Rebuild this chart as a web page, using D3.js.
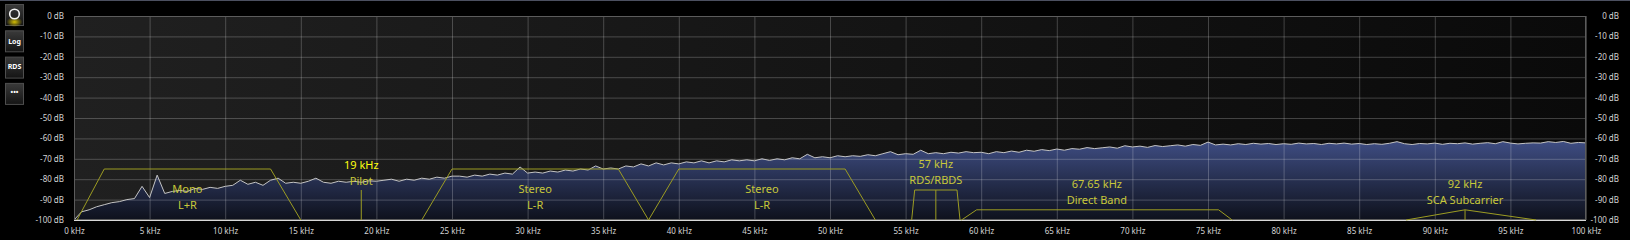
<!DOCTYPE html>
<html>
<head>
<meta charset="utf-8">
<script src="https://cdn.jsdelivr.net/npm/d3@7"></script>
<style>
    html, body { margin: 0; padding: 0; background: #000; }
    svg { display: block; }
    text { font-family: "Noto Sans", "Open Sans", sans-serif; }
</style>
</head>
<body>
<svg id="mpx-svg" width="1630" height="240"></svg>
<script>
/*
    mpx spectrum
*/

// Frequency ticks (kHz) and level ticks (dB)
const freqTicks = [0, 5, 10, 15, 20, 25, 30, 35, 40, 45, 50, 55, 60, 65, 70, 75, 80, 85, 90, 95, 100];
const levelTicks = [0, -10, -20, -30, -40, -50, -60, -70, -80, -90, -100];

// Spectrum, one value per 0.5 kHz bin
const binKHz = 0.5;
const spectrumDb = [
    -100, -96, -95, -93.5, -92.5, -91.5, -91, -90, -89.5, -83.5,
    -89, -78, -87, -86, -85.5, -86, -84.5, -85, -84, -84.5,
    -83.5, -83, -80.5, -82.5, -81.5, -83, -80.5, -79.5, -82, -81.5,
    -82, -81, -79.5, -81.5, -82, -81, -81.5, -81, -81.5, -80.8,
    -81, -80.5, -80, -81, -80, -80.5, -79.5, -80, -79, -79.5,
    -78.5, -78.5, -79, -78, -78.5, -77.5, -78, -77, -77.5, -74,
    -77, -76.5, -77, -76, -76.5, -75.5, -76, -75, -75.5, -73.5,
    -75, -74.5, -75, -73.5, -74, -72.5, -73.5, -72, -73, -72,
    -72.5, -71.5, -72, -71, -72, -71, -71.5, -70.5, -71, -70.5,
    -71, -70, -70.8, -70, -70.5, -69.5, -70, -67.8, -69.5, -69,
    -69.5, -68.5, -69, -68.5, -68.8, -68, -68.5, -67.5, -66.5, -68,
    -67.5, -67.8, -65.8, -67.5, -67, -67.5, -66.8, -67.2, -66.5, -67,
    -66.8, -67.5, -66.5, -67, -66.2, -66.8, -65.8, -66.3, -65.5, -66,
    -65.2, -65.8, -65, -65.3, -64.5, -65, -64.6, -64.2, -64.8, -63.6,
    -64.2, -63.8, -64.4, -63.5, -64, -63.6, -63.2, -63.8, -63, -63.4,
    -61.8, -63.2, -62.8, -63.2, -62.6, -63, -62.4, -62.8, -62.5, -63,
    -62.6, -62.9, -62.3, -62.7, -62.5, -63, -62.4, -62.7, -62.3, -62.8,
    -62.5, -63, -62.6, -62.9, -62.4, -61.6, -62.6, -63, -62.5, -62.7,
    -62.3, -62.9, -62.4, -62.6, -62.2, -62.8, -62.4, -62.1, -62.6, -61.6,
    -62.3, -62.7, -62.4, -62.2, -62.3, -61.6, -62, -61.5, -62.4, -62,
    -62.2
];

// Band masks as [kHz, dB] corner points
const monoMask = [[0.2, -100], [2, -75], [13, -75], [15, -100]];
const pilotMarker = [[19, -100], [19, -85.3]];
const stereoMaskLow = [[23, -100], [25, -75], [36, -75], [38, -100]];
const stereoMaskHigh = [[38, -100], [40, -75], [51, -75], [53, -100]];
const rdsMask = [[55.4, -100], [55.6, -85.3], [58.4, -85.3], [58.6, -100]];
const rdsMarker = [[57, -100], [57, -85.3]];
const directBandMask = [[58.7, -100], [59.7, -95], [75.7, -95], [76.6, -100]];
const scaMask = [[88.1, -100], [92, -95], [96.7, -100]];
const scaMarker = [[92, -100], [92, -95]];

// Band captions: centre frequency, level of the first line, lines
const bandCaptions = [
    { kHz: 7.5, dB: -85, lines: ["Mono", "L+R"] },
    { kHz: 19, dB: -73, lines: ["19 kHz", "Pilot"], bright: true },
    { kHz: 30.5, dB: -85, lines: ["Stereo", "L-R"] },
    { kHz: 45.5, dB: -85, lines: ["Stereo", "L-R"] },
    { kHz: 57, dB: -72.7, lines: ["57 kHz", "RDS/RBDS"] },
    { kHz: 67.65, dB: -82.5, lines: ["67.65 kHz", "Direct Band"] },
    { kHz: 92, dB: -82.5, lines: ["92 kHz", "SCA Subcarrier"] }
];

const sideButtons = ["ring", "Log", "RDS", "\u2022\u2022\u2022"];

class SpectrumChart {
    constructor() {
        this._left = 74;
        this._right = 1586;
        this._top = 16;
        this._bottom = 220;
        this._maskColour = "#9c9c22";
        this._captionColour = "#c8c83a";

        this.x = d3.scaleLinear().domain([0, 100]).range([this._left, this._right]);
        this.y = d3.scaleLinear().domain([-100, 0]).range([this._bottom, this._top]);

        this._setupSvg();
        this._setupGradients();
    }

    _setupSvg() {
        this._svg = d3.select("#mpx-svg");
        this._defs = this._svg.append("defs");
        this._svg
            .append("rect")
            .attr("width", 1630)
            .attr("height", 240)
            .attr("fill", "#000");
        this._svg
            .append("rect")
            .attr("width", 1630)
            .attr("height", 1)
            .attr("fill", "#4c5060");
    }

    _setupGradients() {
        const bg = this._defs
            .append("linearGradient")
            .attr("id", "plot-bg")
            .attr("x1", "0%")
            .attr("x2", "100%")
            .attr("y1", "0%")
            .attr("y2", "0%");
        bg.append("stop").attr("offset", "0%").attr("stop-color", "#202020");
        bg.append("stop").attr("offset", "100%").attr("stop-color", "#0a0a0a");

        const fill = this._defs
            .append("linearGradient")
            .attr("id", "spectrum-fill")
            .attr("gradientUnits", "userSpaceOnUse")
            .attr("x1", 0)
            .attr("x2", 0)
            .attr("y1", this.y(-60))
            .attr("y2", this.y(-100));
        fill.append("stop").attr("offset", "0%").attr("stop-color", "#404f86");
        fill.append("stop").attr("offset", "100%").attr("stop-color", "#0e111c");

        const glow = this._defs.append("radialGradient").attr("id", "ring-glow");
        glow.append("stop").attr("offset", "0%").attr("stop-color", "#e8d000").attr("stop-opacity", 0.9);
        glow.append("stop").attr("offset", "100%").attr("stop-color", "#e8d000").attr("stop-opacity", 0);

        const btn = this._defs
            .append("linearGradient")
            .attr("id", "btn-bg")
            .attr("x1", "0%")
            .attr("x2", "0%")
            .attr("y1", "0%")
            .attr("y2", "100%");
        btn.append("stop").attr("offset", "0%").attr("stop-color", "#3a3a3a");
        btn.append("stop").attr("offset", "100%").attr("stop-color", "#141414");
    }

    _drawPlotArea() {
        this._svg
            .append("rect")
            .attr("x", this._left)
            .attr("y", this._top)
            .attr("width", this._right - this._left)
            .attr("height", this._bottom - this._top)
            .attr("fill", "url(#plot-bg)");
    }

    _drawSpectrum() {
        const area = d3
            .area()
            .x((d, i) => this.x(i * binKHz))
            .y0(this.y(-100))
            .y1(d => this.y(d));
        const line = d3
            .line()
            .x((d, i) => this.x(i * binKHz))
            .y(d => this.y(d));

        this._svg
            .append("path")
            .datum(spectrumDb)
            .attr("d", area)
            .attr("fill", "url(#spectrum-fill)");
        this._gridG = this._svg.append("g");
        this._svg
            .append("path")
            .datum(spectrumDb)
            .attr("d", line)
            .attr("fill", "none")
            .attr("stroke", "#c4c4c4")
            .attr("stroke-width", 1);
    }

    _drawGridAndAxes() {
        const h = this._bottom - this._top,
            w = this._right - this._left;

        // Grid lines, drawn over the fill so they tint it
        this._gridG
            .append("g")
            .attr("transform", `translate(0,${this._bottom})`)
            .call(d3.axisBottom(this.x).tickValues(freqTicks).tickSize(-h).tickFormat(""))
            .call(g => g.select(".domain").remove())
            .call(g => g.selectAll("line").attr("stroke", "rgba(255,255,255,0.22)"));
        this._gridG
            .append("g")
            .attr("transform", `translate(${this._left},0)`)
            .call(d3.axisLeft(this.y).tickValues(levelTicks).tickSize(-w).tickFormat(""))
            .call(g => g.select(".domain").remove())
            .call(g => g.selectAll("line").attr("stroke", "rgba(255,255,255,0.22)"));

        // Frequency labels
        this._svg
            .append("g")
            .attr("transform", `translate(0,${this._bottom})`)
            .call(d3.axisBottom(this.x).tickValues(freqTicks).tickSize(0).tickPadding(8).tickFormat(d => `${d} kHz`))
            .call(g => g.select(".domain").remove())
            .call(g =>
                g
                    .selectAll("text")
                    .attr("fill", "#d4d4d4")
                    .attr("font-size", "8px")
                    .attr("font-family", "\"Noto Sans\", sans-serif")
            );

        // Level labels, both sides right aligned
        [this._left - 10, 1619].forEach(xPos => {
            this._svg
                .append("g")
                .attr("transform", `translate(${xPos},0)`)
                .call(d3.axisLeft(this.y).tickValues(levelTicks).tickSize(0).tickPadding(0).tickFormat(d => `${d} dB`))
                .call(g => g.select(".domain").remove())
                .call(g =>
                    g
                        .selectAll("text")
                        .attr("fill", "#d4d4d4")
                        .attr("font-size", "8px")
                        .attr("font-family", "\"Noto Sans\", sans-serif")
                );
        });

        this._svg
            .append("rect")
            .attr("x", this._left + 0.5)
            .attr("y", this._top + 0.5)
            .attr("width", w - 1)
            .attr("height", h - 1)
            .attr("fill", "none")
            .attr("stroke", "#5c5c5c");
        this._svg
            .append("line")
            .attr("x1", this._left)
            .attr("x2", this._right)
            .attr("y1", this._bottom + 0.5)
            .attr("y2", this._bottom + 0.5)
            .attr("stroke", "#d8d8d8");
    }

    _drawMasks() {
        const line = d3
            .line()
            .x(d => this.x(d[0]))
            .y(d => this.y(d[1]));
        const g = this._svg.append("g").classed("masks", true);

        [monoMask, pilotMarker, stereoMaskLow, stereoMaskHigh, rdsMask, rdsMarker, directBandMask, scaMask, scaMarker]
            .forEach(points => {
                g.append("path")
                    .attr("d", line(points))
                    .attr("fill", "none")
                    .attr("stroke", this._maskColour)
                    .attr("stroke-width", 1);
            });

        const captions = g
            .selectAll("text.caption")
            .data(bandCaptions)
            .enter()
            .append("text")
            .classed("caption", true)
            .attr("x", d => this.x(d.kHz))
            .attr("y", d => this.y(d.dB))
            .attr("text-anchor", "middle")
            .attr("font-size", "11px");
        captions
            .selectAll("tspan")
            .data(d => d.lines.map((t, i) => ({ t, i, bright: d.bright, kHz: d.kHz })))
            .enter()
            .append("tspan")
            .attr("x", d => this.x(d.kHz))
            .attr("dy", d => (d.i === 0 ? "0.35em" : "16px"))
            .attr("fill", d => (d.bright && d.i === 0 ? "#ffff10" : this._captionColour))
            .text(d => d.t);
    }

    _drawButtons() {
        const btn = this._svg
            .append("g")
            .selectAll("g")
            .data(sideButtons)
            .enter()
            .append("g")
            .attr("transform", (d, i) => `translate(5,${4 + i * 26.3})`);

        btn.append("rect")
            .attr("x", 0.5)
            .attr("y", 0.5)
            .attr("width", 18)
            .attr("height", 21)
            .attr("fill", "url(#btn-bg)")
            .attr("stroke", "#4e4e4e");

        btn.filter(d => d === "ring")
            .append("ellipse")
            .attr("cx", 9.5)
            .attr("cy", 18)
            .attr("rx", 8)
            .attr("ry", 5)
            .attr("fill", "url(#ring-glow)");
        btn.filter(d => d === "ring")
            .append("circle")
            .attr("cx", 9.5)
            .attr("cy", 10)
            .attr("r", 4.8)
            .attr("fill", "none")
            .attr("stroke", "#f4f4f4")
            .attr("stroke-width", 1.6);
        btn.filter(d => d !== "ring")
            .append("text")
            .attr("x", 9.5)
            .attr("y", d => (d === "Log" ? 13.5 : 12.5))
            .attr("text-anchor", "middle")
            .attr("font-size", d => (d === "Log" ? "7px" : "7px"))
            .attr("font-weight", "bold")
            .attr("fill", "#fff")
            .text(d => d);
    }

    draw() {
        this._drawPlotArea();
        this._drawSpectrum();
        this._drawGridAndAxes();
        this._drawMasks();
        this._drawButtons();
    }
}

new SpectrumChart().draw();
</script>
</body>
</html>
